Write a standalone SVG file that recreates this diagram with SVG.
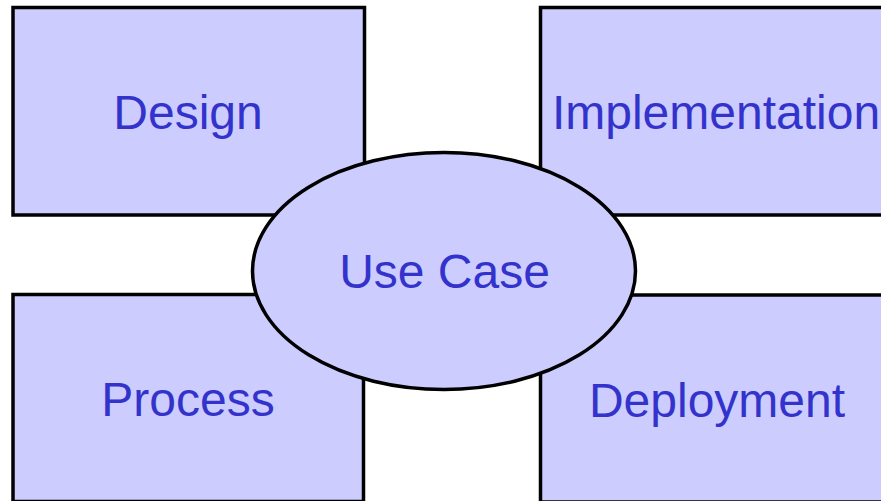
<svg xmlns="http://www.w3.org/2000/svg" width="881" height="501" viewBox="0 0 881 501">
  <style>
    .box { fill: #CCCCFF; stroke: #000000; stroke-width: 3.5; }
    .lbl { font-family: "Liberation Sans", Arial, sans-serif; font-size: 48px; fill: #3333CC; text-anchor: middle; }
  </style>
  <rect x="0" y="0" width="881" height="501" fill="#FFFFFF"/>
  <g id="design">
    <rect class="box" x="13" y="7.5" width="351.5" height="207.5"/>
    <text class="lbl" x="188" y="129">Design</text>
  </g>
  <g id="implementation">
    <rect class="box" x="540.5" y="7.5" width="352" height="207.5"/>
    <text class="lbl" x="716" y="129">Implementation</text>
  </g>
  <g id="process">
    <rect class="box" x="13" y="294.5" width="350.5" height="207"/>
    <text class="lbl" x="188" y="416">Process</text>
  </g>
  <g id="deployment">
    <rect class="box" x="540.5" y="295" width="352" height="207"/>
    <text class="lbl" x="717" y="416.5">Deployment</text>
  </g>
  <g id="usecase">
    <ellipse class="box" cx="444" cy="271" rx="191.5" ry="118.5"/>
    <text class="lbl" x="444.5" y="288">Use Case</text>
  </g>
</svg>
